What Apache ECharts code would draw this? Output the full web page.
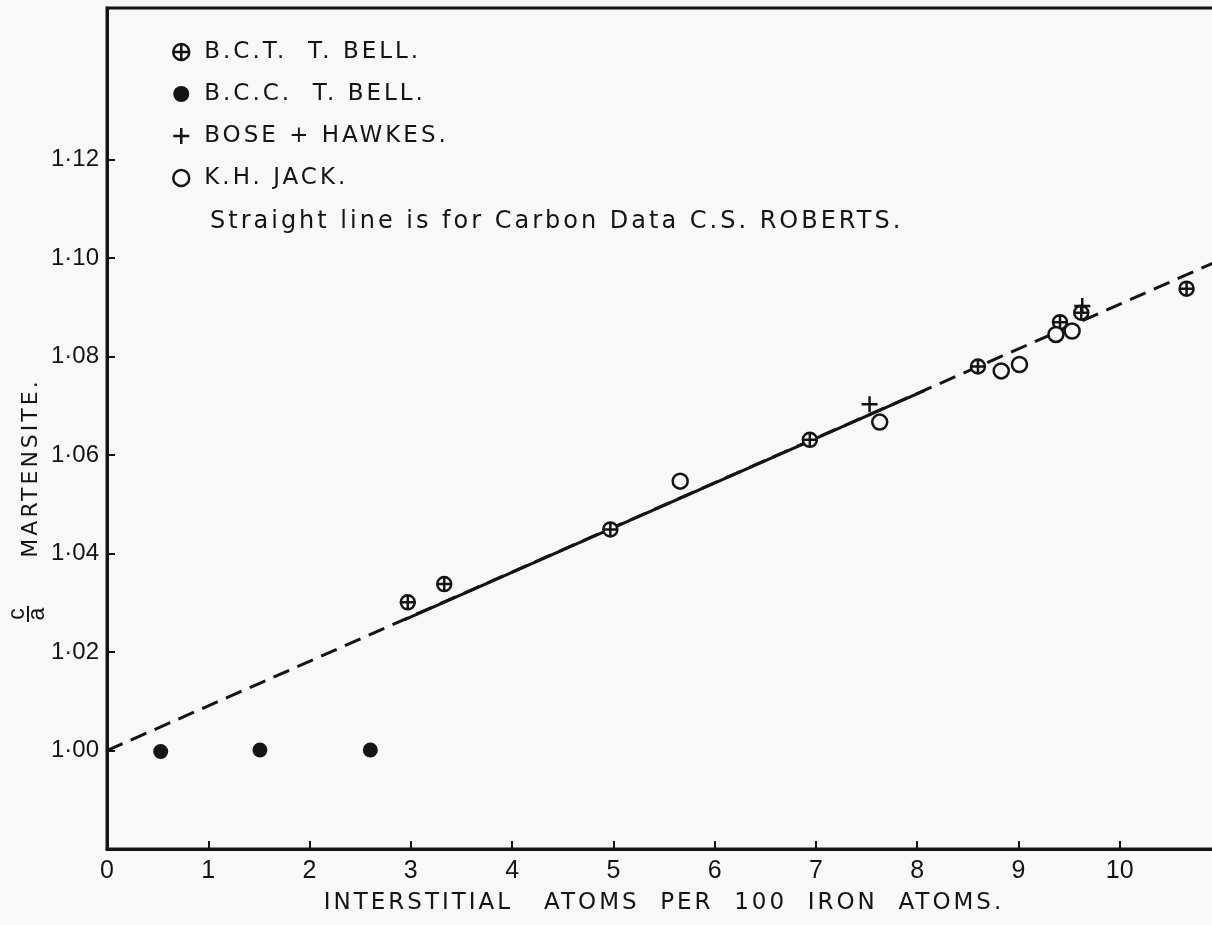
<!DOCTYPE html>
<html>
<head>
<meta charset="utf-8">
<script src="https://cdn.jsdelivr.net/npm/echarts@6/dist/echarts.min.js"></script>
<style>
html,body{margin:0;padding:0;background:#f8f8f8;}
#chart{width:1212px;height:925px;}
</style>
</head>
<body>
<div id="chart"></div>
<script>
// ---- data ----
const xTickValues = [0, 1, 2, 3, 4, 5, 6, 7, 8, 9, 10];
const yTickValues = [1.00, 1.02, 1.04, 1.06, 1.08, 1.10, 1.12];

const seriesNames = ['B.C.T.  T. BELL.', 'B.C.C.  T. BELL.', 'BOSE + HAWKES.', 'K.H. JACK.'];

const bctBell = [[2.97, 1.0301], [3.33, 1.0338], [4.97, 1.0449], [6.94, 1.0631], [8.60, 1.0780], [9.41, 1.0870], [9.62, 1.0889], [10.66, 1.0938]];
const bccBell = [[0.53, 0.9998], [1.51, 1.0001], [2.60, 1.0001]];
const boseHawkes = [[7.53, 1.0703], [9.63, 1.0903]];
const khJack = [[5.66, 1.0547], [7.63, 1.0667], [8.83, 1.0771], [9.01, 1.0784], [9.37, 1.0845], [9.53, 1.0852]];

const robertsLine = [[0, 1.0000], [11, 1.0997]];
const robertsSolid = [[2.94, 1.0266], [8.07, 1.0731]];

const noteText = 'Straight line is for Carbon Data C.S. ROBERTS.';
const xAxisTitle = 'INTERSTITIAL   ATOMS  PER  100  IRON  ATOMS.';
const yAxisTitle = 'MARTENSITE.';

// ---- styling ----
const INK = '#141414';
const BG = '#f8f8f8';
const LETTER_FONT = 'DejaVu Sans';      // hand-lettered captions (spaced out)
const TICK_FONT = '"Liberation Sans Narrow", "Liberation Sans", sans-serif';    // tick numerals
const crossCircle = 'path://M0,-10A10,10 0 1,1 0,10A10,10 0 1,1 0,-10ZM-10,0L10,0M0,-10L0,10';
const plusPath = 'path://M-10,0L10,0M0,-10L0,10';

// widen the tracking of the lettered captions (stencil lettering look)
(function () {
  const proto = CanvasRenderingContext2D.prototype;
  const origFill = proto.fillText;
  proto.fillText = function (t, x, y, m) {
    if ('letterSpacing' in this) {
      this.letterSpacing = /DejaVu/.test(this.font) ? '3px' : '0px';
    }
    return m === undefined ? origFill.call(this, t, x, y) : origFill.call(this, t, x, y, m);
  };
})();

const chart = echarts.init(document.getElementById('chart'), null, {renderer: 'canvas'});

const option = {
  backgroundColor: BG,
  animation: false,
  textStyle: {fontFamily: LETTER_FONT, color: INK},
  grid: {
    left: 107, right: -9, top: 8, bottom: 76,
    outerBoundsMode: 'none',
    containLabel: false,
    show: true, borderColor: INK, borderWidth: 3, backgroundColor: 'transparent'
  },
  legend: {
    orient: 'vertical',
    left: 172, top: 39,
    padding: 0,
    itemGap: 16,
    itemWidth: 16, itemHeight: 16,
    selectedMode: false,
    textStyle: {fontFamily: LETTER_FONT, fontSize: 23, color: INK, lineHeight: 26, padding: [0, 0, 0, 10]},
    data: [
      {name: seriesNames[0], icon: crossCircle, itemStyle: {color: BG, borderColor: INK, borderWidth: 2.5}},
      {name: seriesNames[1], icon: 'circle', itemStyle: {color: INK, borderWidth: 0}},
      {name: seriesNames[2], icon: plusPath, itemStyle: {color: 'rgba(0,0,0,0)', borderColor: INK, borderWidth: 2.5}},
      {name: seriesNames[3], icon: 'circle', itemStyle: {color: BG, borderColor: INK, borderWidth: 2.5}}
    ]
  },
  xAxis: {
    type: 'value', min: 0, max: 11, interval: 1,
    axisLine: {show: true, lineStyle: {color: INK, width: 3}},
    axisTick: {show: true, inside: true, length: 8, lineStyle: {color: INK, width: 2}, customValues: xTickValues},
    axisLabel: {show: true, fontFamily: TICK_FONT, fontSize: 25, color: INK, margin: 10, customValues: xTickValues},
    splitLine: {show: false},
    name: xAxisTitle, nameLocation: 'middle', nameGap: 43,
    nameTextStyle: {fontFamily: LETTER_FONT, fontSize: 23, color: INK}
  },
  yAxis: {
    type: 'value', min: 0.98, max: 1.1508, interval: 0.02,
    axisLine: {show: true, lineStyle: {color: INK, width: 3}},
    axisTick: {show: true, inside: true, length: 8, lineStyle: {color: INK, width: 2}, customValues: yTickValues},
    axisLabel: {show: true, fontFamily: TICK_FONT, fontSize: 24, color: INK, margin: 8, customValues: yTickValues,
      formatter: v => v.toFixed(2).replace('.', '\u00b7')},
    splitLine: {show: false}
  },
  graphic: [
    {type: 'text', x: 210, y: 222, style: {text: noteText, font: '24px "DejaVu Sans"', fill: INK, align: 'left', verticalAlign: 'middle'}},
    {type: 'text', x: 31, y: 468, rotation: Math.PI / 2, style: {text: yAxisTitle, font: '22px "DejaVu Sans"', fill: INK, align: 'center', verticalAlign: 'middle'}},
    {type: 'group', x: 27, y: 614, rotation: Math.PI / 2, children: [
      {type: 'text', x: 0, y: -9, style: {text: 'c', font: '23px "Liberation Sans"', fill: INK, align: 'center', verticalAlign: 'middle'}},
      {type: 'line', shape: {x1: -8, y1: 1, x2: 8, y2: 1}, style: {stroke: INK, lineWidth: 2}},
      {type: 'text', x: 0, y: 11, style: {text: 'a', font: '23px "Liberation Sans"', fill: INK, align: 'center', verticalAlign: 'middle'}}
    ]}
  ],
  series: [
    {type: 'line', name: 'roberts', data: robertsLine, symbol: 'none', silent: true, z: 1,
      lineStyle: {color: INK, width: 3, type: [17, 9]}},
    {type: 'line', name: 'robertsSolid', data: robertsSolid, symbol: 'none', silent: true, z: 1,
      lineStyle: {color: INK, width: 3, type: 'solid'}},
    {type: 'scatter', name: seriesNames[0], data: bctBell, symbol: crossCircle, symbolSize: 14, z: 5,
      itemStyle: {color: BG, borderColor: INK, borderWidth: 2.5, opacity: 1}},
    {type: 'scatter', name: seriesNames[1], data: bccBell, symbol: 'circle', symbolSize: 15, z: 5,
      itemStyle: {color: INK, opacity: 1}},
    {type: 'scatter', name: seriesNames[2], data: boseHawkes, symbol: plusPath, symbolSize: 16, z: 6,
      itemStyle: {color: 'rgba(0,0,0,0)', borderColor: INK, borderWidth: 2.5, opacity: 1}},
    {type: 'scatter', name: seriesNames[3], data: khJack, symbol: 'circle', symbolSize: 15, z: 5,
      itemStyle: {color: BG, borderColor: INK, borderWidth: 2.5, opacity: 1}}
  ]
};
chart.setOption(option);
</script>
</body>
</html>
